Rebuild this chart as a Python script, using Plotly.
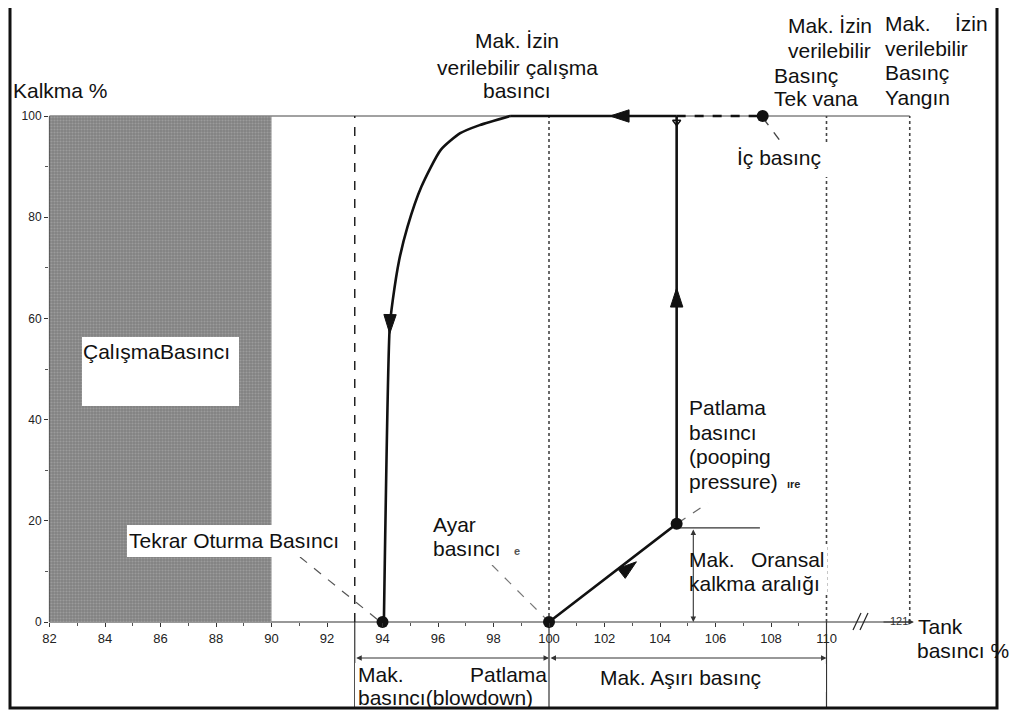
import plotly.graph_objects as go

# ---------------- data ----------------
x_ticks = [82, 84, 86, 88, 90, 92, 94, 96, 98, 100, 102, 104, 106, 108, 110]
x_minor = [83, 85, 87, 89, 91, 93, 95, 97, 99, 101, 103, 105, 107, 109]
y_ticks = [0, 20, 40, 60, 80, 100]
y_minor = [10, 30, 50, 70, 90]

# opening path: set pressure -> popping point -> full lift
lift_x = [100, 104.6, 104.6]
lift_y = [0, 19.4, 100]
# full lift plateau (solid) and overpressure (dashed)
top_x = [104.6, 98.6]
top_y = [100, 100]
over_x = [104.6, 107.7]
over_y = [100, 100]
# closing (blowdown) curve
reseat_x = [98.6, 97.5, 96.8, 96.1, 95.4, 94.9, 94.6, 94.37, 94.26, 94.05]
reseat_y = [100, 98.2, 96.6, 93.3, 86.0, 78.1, 71.5, 63.6, 58.3, 0]
# key points
pts_x = [94, 100, 104.6, 107.7]
pts_y = [0, 0, 19.4, 100]
# direction arrows
arr_x = [94.26, 102.2, 104.6, 103.15]
arr_y = [57.0, 100, 66, 11.9]
arr_ang = [181, 270, 0, 52]
# working pressure zone
work_x = [82, 90]
work_y = [0, 100]
# reference pressure lines
reseat_line = 93
set_line = 100
maxop_line = 110
fire_pos = 113      # "121" drawn after the axis break
fire_label = "121"
prop_x = 105.2      # max proportional lift range marker
prop_top = 18.6
prop_end = 107.6

# ---------------- pixel helpers (layout only) ----------------
OFF = 8                      # page body margin
W, H = 1021 - OFF, 715 - OFF
X0, XS, Y0, YS = 549, 27.75, 622, 5.06
def dx(p):                   # screen pixel -> data x
    return 100 + (p - X0) / XS
def dy(p):                   # screen pixel -> data y
    return (Y0 - p) / YS
def paper_x(p):
    return (p - OFF) / W
def paper_y(p):
    return 1 - (p - OFF) / H

FONT = "Liberation Sans, Arial, sans-serif"
BLACK = "#111111"

fig = go.Figure()

# working pressure shaded zone
fig.add_trace(go.Scatter(
    x=[work_x[0], work_x[1], work_x[1], work_x[0], work_x[0]],
    y=[work_y[0], work_y[0], work_y[1], work_y[1], work_y[0]],
    fill="toself", mode="lines", line=dict(width=0, color="#8f8f8f"),
    fillcolor="#8f8f8f",
    fillpattern=dict(shape=".", bgcolor="#828282", fgcolor="#b4b4b4", size=3, solidity=0.4),
    hoverinfo="skip", showlegend=False))

thick = dict(color=BLACK, width=2.6)
fig.add_trace(go.Scatter(x=lift_x, y=lift_y, mode="lines", line=thick, showlegend=False))
fig.add_trace(go.Scatter(x=top_x, y=top_y, mode="lines", line=thick, showlegend=False))
fig.add_trace(go.Scatter(x=over_x, y=over_y, mode="lines",
                         line=dict(color=BLACK, width=2.6, dash="dash"), showlegend=False))
fig.add_trace(go.Scatter(x=reseat_x, y=reseat_y, mode="lines",
                         line=dict(color=BLACK, width=2.6, shape="spline", smoothing=0.6),
                         showlegend=False))
fig.add_trace(go.Scatter(x=pts_x, y=pts_y, mode="markers",
                         marker=dict(size=12, color=BLACK), showlegend=False))
fig.add_trace(go.Scatter(x=arr_x, y=arr_y, mode="markers",
                         marker=dict(symbol="arrow", size=20, angle=arr_ang, color=BLACK,
                                     line=dict(width=1, color=BLACK)),
                         showlegend=False))
fig.add_trace(go.Scatter(x=[lift_x[-1]], y=[lift_y[-1] - 1.2], mode="markers",
                         marker=dict(symbol="triangle-down-open", size=7, color=BLACK,
                                     line=dict(width=1.5, color=BLACK)), showlegend=False))

shapes = []
def line(x0, y0, x1, y1, color="#333", width=1, dash=None, layer="below"):
    shapes.append(dict(type="line", xref="x", yref="y", x0=x0, y0=y0, x1=x1, y1=y1,
                       line=dict(color=color, width=width, dash=dash), layer=layer))
def wbox(px0, py0, px1, py1):
    shapes.append(dict(type="rect", xref="x", yref="y", x0=dx(px0), x1=dx(px1),
                       y0=dy(py1), y1=dy(py0), fillcolor="white", line=dict(width=0),
                       layer="above"))

# axes lines
line(work_x[0], 0, work_x[0], 100, color="#333", width=1.2)
line(work_x[0], 0, fire_pos, 0, color="#333", width=1.2)
line(work_x[0], 100, fire_pos, 100, color="#444", width=1)
# reference verticals
line(reseat_line, 0, reseat_line, 100, color="#222", width=1.5, dash="dash")
line(reseat_line, dy(708), reseat_line, 0, color="#333", width=1.2)
line(set_line, 0, set_line, 100, color="#444", width=1.6, dash="dot")
line(set_line, dy(708), set_line, 0, color="#333", width=1.2)
line(maxop_line, 0, maxop_line, 100, color="#444", width=1.6, dash="dot")
line(maxop_line, dy(708), maxop_line, 0, color="#333", width=1.2)
line(fire_pos, 0, fire_pos, 100, color="#444", width=1.6, dash="dot")
# axis break
line(dx(853), dy(630), dx(861), dy(613), color="#222", width=1.2)
line(dx(860), dy(630), dx(868), dy(613), color="#222", width=1.2)
# max proportional lift
line(lift_x[1], prop_top, prop_end, prop_top, color="#333", width=1.2)
# leaders
line(dx(300), dy(557), dx(378), dy(620), color="#555", width=1.2, dash="dash")
line(dx(492), dy(565), dx(547), dy(620), color="#777", width=1.2, dash="dash")
line(dx(763), dy(118), dx(784), dy(146), color="#444", width=1.4, dash="dash")
line(dx(678), dy(523), dx(708), dy(503), color="#666", width=1.2, dash="dash")

# white text boxes
wbox(82, 337, 239, 406)
wbox(127, 525, 348, 557)
wbox(430, 510, 517, 565)
wbox(440, 25, 600, 107)
wbox(772, 12, 878, 110)
wbox(880, 10, 994, 110)
wbox(733, 143, 853, 177)
wbox(687, 393, 797, 500)
wbox(687, 547, 827, 594)
wbox(355, 663, 548, 707)
wbox(556, 664, 826, 692)

# frame
shapes.append(dict(type="rect", xref="paper", yref="paper", x0=paper_x(10), x1=paper_x(997),
                   y0=paper_y(708), y1=paper_y(5), line=dict(color=BLACK, width=3),
                   layer="above"))

ann = []
def T(s, xp, yp, anchor="left", size=21, color=BLACK):
    ann.append(dict(text=s, x=dx(xp), y=dy(yp), xref="x", yref="y", xanchor=anchor,
                    yanchor="middle", showarrow=False, borderpad=0,
                    font=dict(family=FONT, size=size, color=color)))

def arrow(x0, y0, x1, y1, side="end+start"):
    ann.append(dict(text="", x=x1, y=y1, ax=x0, ay=y0, xref="x", yref="y",
                    axref="x", ayref="y", showarrow=True, arrowhead=2, arrowsize=1,
                    arrowwidth=1.1, arrowcolor="#333", arrowside=side))

# x axis arrow
arrow(fire_pos - 1.0, 0, fire_pos + 0.15, 0, side="end")
# brackets below axis
arrow(reseat_line, dy(658), set_line, dy(658))
arrow(set_line, dy(658), maxop_line, dy(658))
# max proportional lift double arrow
arrow(prop_x, prop_top, prop_x, 0)

T("Kalkma %", 12, 90)
T("Mak. İzin", 517, 40, anchor="center")
T("verilebilir çalışma", 517, 67, anchor="center")
T("basıncı", 517, 90, anchor="center")
T("Mak. İzin", 787, 25)
T("verilebilir", 787, 50)
T("Basınç", 773, 75)
T("Tek vana", 773, 98)
T("Mak.", 884, 23)
T("İzin", 989, 23, anchor="right")
T("verilebilir", 884, 48)
T("Basınç", 884, 72)
T("Yangın", 884, 97)
T("İç basınç", 736, 157)
T("ÇalışmaBasıncı", 82, 351)
T("Patlama", 688, 407)
T("basıncı", 688, 432)
T("(pooping", 688, 456)
T("pressure)", 688, 481)
T("<b>ıre</b>", 786, 484, size=11, color="#222")
T("Tekrar Oturma Basıncı", 128, 540)
T("Ayar", 432, 524)
T("basıncı", 432, 548)
T("<b>e</b>", 513, 551, size=11, color="#555")
T("Mak.", 688, 559)
T("Oransal", 826, 559, anchor="right")
T("kalkma aralığı", 688, 583)
T("Tank", 917, 626)
T("basıncı %", 916, 650)
T("Mak.", 357, 674)
T("Patlama", 548, 674, anchor="right")
T("basıncı(blowdown)", 357, 697)
T("Mak. Aşırı basınç", 599, 677)
ann.append(dict(text=fire_label, x=fire_pos, y=dy(621), xref="x", yref="y",
                xanchor="right", yanchor="middle", showarrow=False,
                font=dict(family=FONT, size=11, color="#333")))

tickfont = dict(family=FONT, size=13, color="#222")
fig.update_layout(
    width=W, height=H, autosize=False,
    margin=dict(l=0, r=0, t=0, b=0, pad=0),
    paper_bgcolor="white", plot_bgcolor="white",
    shapes=shapes, annotations=ann, showlegend=False,
    xaxis=dict(range=[dx(OFF), dx(OFF + W)], anchor="free", position=paper_y(Y0),
               showgrid=False, zeroline=False, showline=False,
               tickmode="array", tickvals=x_ticks, ticktext=[str(v) for v in x_ticks],
               ticks="outside", ticklen=4, tickcolor="#333", tickfont=tickfont,
               minor=dict(tickmode="array", tickvals=x_minor, ticks="outside", ticklen=3,
                          tickcolor="#555")),
    yaxis=dict(range=[dy(OFF + H), dy(OFF)], anchor="free", position=paper_x(48),
               showgrid=False, zeroline=False, showline=False,
               tickmode="array", tickvals=y_ticks, ticktext=[str(v) for v in y_ticks],
               ticks="outside", ticklen=4, tickcolor="#333",
               tickfont=dict(family=FONT, size=12, color="#222"),
               minor=dict(tickmode="array", tickvals=y_minor, ticks="outside", ticklen=3,
                          tickcolor="#555")),
)

fig.write_html("out.html")
